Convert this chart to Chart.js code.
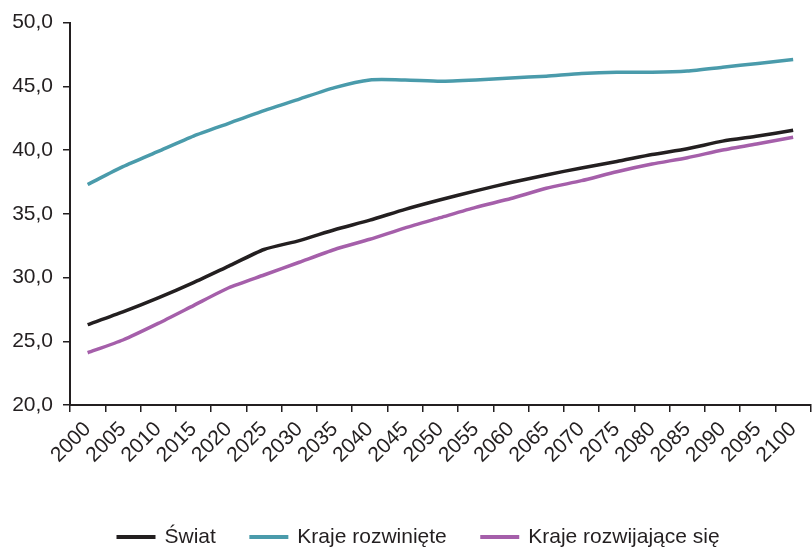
<!DOCTYPE html>
<html>
<head>
<meta charset="utf-8">
<script src="https://cdn.jsdelivr.net/npm/chart.js@4"></script>
<style>
  html, body { margin: 0; padding: 0; overflow: hidden; background: #fff; }
  #wrap { width: 816px; height: 547px; }
</style>
</head>
<body>
<div id="wrap"><canvas id="chart" width="816" height="547"></canvas></div>
<script>
const lata = ["2000", "2005", "2010", "2015", "2020", "2025", "2030", "2035", "2040", "2045", "2050",
  "2055", "2060", "2065", "2070", "2075", "2080", "2085", "2090", "2095", "2100"];
const swiat = [26.3, 27.3, 28.4, 29.6, 30.9, 32.2, 32.9, 33.75, 34.5, 35.35, 36.1,
  36.8, 37.45, 38.05, 38.6, 39.1, 39.65, 40.1, 40.7, 41.1, 41.55];
const krajeRozwiniete = [37.3, 38.7, 39.9, 41.1, 42.1, 43.1, 44.0, 44.9, 45.5, 45.5, 45.4,
  45.5, 45.65, 45.8, 46.0, 46.1, 46.1, 46.2, 46.5, 46.8, 47.1];
const krajeRozwijajace = [24.1, 25.1, 26.4, 27.8, 29.2, 30.2, 31.2, 32.2, 33.0, 33.9, 34.7,
  35.5, 36.2, 37.0, 37.6, 38.3, 38.9, 39.4, 40.0, 40.5, 41.0];
const yTicks = [20, 25, 30, 35, 40, 45, 50];

const ink = "#231f20";
const font = "'Liberation Sans', Arial, sans-serif";

// przesuwa legendę w miejsce z oryginału
const legendPos = {
  id: "legendPos",
  afterLayout(chart) {
    const lg = chart.legend;
    const pad = lg.options.labels.padding;
    const dx = 118 - pad - lg.left;
    lg.left += dx;
    lg.right += dx;
    const h = lg.options.labels.font.size;
    lg.top = 537 - h / 2 - pad;
  }
};

function line(label, data, color) {
  return {
    label: label,
    data: data,
    borderColor: color,
    backgroundColor: color,
    borderWidth: 3.5,
    pointRadius: 0,
    tension: 0.2,
    fill: false
  };
}

new Chart(document.getElementById("chart"), {
  type: "line",
  data: {
    labels: lata,
    datasets: [
      line("Świat", swiat, ink),
      line("Kraje rozwinięte", krajeRozwiniete, "#4a9bab"),
      line("Kraje rozwijające się", krajeRozwijajace, "#a55faa")
    ]
  },
  options: {
    responsive: false,
    animation: false,
    layout: { padding: { top: 21, right: 1, left: 0, bottom: 0 } },
    plugins: {
      tooltip: { enabled: false },
      legend: {
        position: "bottom",
        align: "start",
        labels: {
          color: ink,
          font: { family: font, size: 21 },
          boxWidth: 36,
          boxHeight: 1,
          padding: 35,
          generateLabels(chart) {
            return Chart.defaults.plugins.legend.labels.generateLabels(chart).map((it) => {
              it.lineWidth = 3;
              it.fillStyle = it.strokeStyle;
              return it;
            });
          }
        }
      }
    },
    scales: {
      x: {
        offset: true,
        grid: { offset: true, drawOnChartArea: false, drawTicks: true, tickLength: 7, color: ink, lineWidth: 1.5 },
        border: { display: true, color: ink, width: 2 },
        ticks: {
          color: ink,
          font: { family: font, size: 21 },
          minRotation: 45,
          maxRotation: 45,
          autoSkip: false,
          padding: 5
        },
        afterFit(scale) {
          scale.height = 547 - 405 - scale.chart.legend.height;
        }
      },
      y: {
        min: 20,
        max: 50,
        afterBuildTicks(scale) {
          scale.ticks = yTicks.map((v) => ({ value: v }));
        },
        grid: { drawOnChartArea: false, drawTicks: true, tickLength: 7, color: ink, lineWidth: 1.5 },
        border: { display: true, color: ink, width: 2 },
        ticks: {
          color: ink,
          font: { family: font, size: 21 },
          padding: 10,
          callback: (v) => v.toFixed(1).replace(".", ",")
        },
        afterFit(scale) {
          scale.width = 70;
        }
      }
    }
  },
  plugins: [legendPos]
});
</script>
</body>
</html>
